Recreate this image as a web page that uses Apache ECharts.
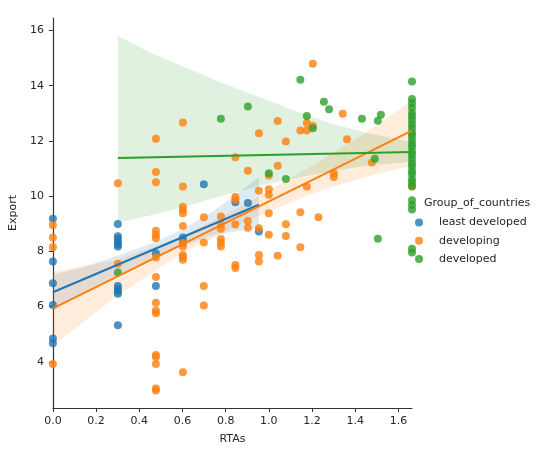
<!DOCTYPE html>
<html><head><meta charset="utf-8">
<script src="https://cdn.jsdelivr.net/npm/echarts@6/dist/echarts.min.js"></script>
<style>html,body{margin:0;padding:0;background:#fff}#c{width:550px;height:458px}</style>
</head><body><div id="c"></div><script>
const groupNames = ['least developed', 'developing', 'developed'];
const groupColors = ['#1f77b4', '#ff7f0e', '#2ca02c'];
const xTicks = [0, 0.2, 0.4, 0.6, 0.8, 1.0, 1.2, 1.4, 1.6];
const yTicks = [4, 6, 8, 10, 12, 14, 16];

const leastDeveloped = [
  [0,9.18],[0,7.63],[0,6.85],[0,6.06],[0,4.85],[0,4.67],
  [0.301,8.99],[0.301,8.55],[0.301,8.45],[0.301,8.35],[0.301,8.25],[0.301,8.18],
  [0.301,6.75],[0.301,6.65],[0.301,6.55],[0.301,6.47],[0.301,5.33],
  [0.477,7.93],[0.477,6.75],[0.602,8.5],[0.602,8.35],
  [0.699,10.43],[0.845,9.78],[0.903,9.75],[0.954,8.72]
];
const developing = [
  [0,8.95],[0,8.5],[0,8.15],[0,3.92],
  [0.301,10.47],[0.301,7.55],
  [0.477,12.08],[0.477,10.87],[0.477,10.5],[0.477,8.75],[0.477,8.6],[0.477,8.48],[0.477,7.78],
  [0.477,7.07],[0.477,6.14],[0.477,5.86],[0.477,5.76],[0.477,4.25],[0.477,4.18],[0.477,3.92],
  [0.477,3.04],[0.477,2.96],
  [0.602,12.67],[0.602,10.35],[0.602,9.62],[0.602,9.5],[0.602,9.38],[0.602,8.92],[0.602,8.3],
  [0.602,8.18],[0.602,7.87],[0.602,7.79],[0.602,7.7],[0.602,3.62],
  [0.699,9.24],[0.699,8.32],[0.699,6.75],[0.699,6.04],
  [0.778,9.26],[0.778,8.97],[0.778,8.82],[0.778,8.45],[0.778,8.3],[0.778,8.18],
  [0.845,11.41],[0.845,9.97],[0.845,9.88],[0.845,8.97],[0.845,7.51],[0.845,7.4],
  [0.903,10.92],[0.903,9.1],[0.903,8.86],
  [0.954,12.28],[0.954,10.2],[0.954,8.84],[0.954,7.87],[0.954,7.63],
  [1.0,10.75],[1.0,10.25],[1.0,10.05],[1.0,9.38],[1.0,8.6],
  [1.041,12.72],[1.041,11.1],[1.041,7.84],
  [1.079,11.98],[1.079,8.98],[1.079,8.56],
  [1.146,12.38],[1.146,9.42],[1.146,8.15],
  [1.176,12.65],[1.176,12.38],[1.176,10.35],
  [1.204,14.79],[1.204,12.55],[1.23,9.24],
  [1.301,10.83],[1.301,10.69],[1.342,12.98],[1.362,12.06],[1.477,11.22],[1.663,10.35]
];
const developed = [
  [0.301,7.24],[0.778,12.8],[0.903,13.25],[1.0,10.83],[1.079,10.62],[1.146,14.21],[1.176,12.9],
  [1.204,12.46],[1.255,13.42],[1.279,13.15],[1.431,12.8],[1.491,11.35],[1.505,12.73],[1.505,8.46],
  [1.519,12.95],
  [1.663,14.15],[1.663,13.52],[1.663,13.36],[1.663,13.2],[1.663,13.02],[1.663,12.9],[1.663,12.76],
  [1.663,12.6],[1.663,12.47],[1.663,12.3],[1.663,12.2],[1.663,12.04],[1.663,11.9],[1.663,11.78],
  [1.663,11.62],[1.663,11.5],[1.663,11.35],[1.663,11.2],[1.663,11.08],[1.663,10.92],[1.663,10.8],
  [1.663,10.62],[1.663,10.5],[1.663,10.36],[1.663,9.85],[1.663,9.68],[1.663,9.52],[1.663,8.1],[1.663,7.96]
];

// regression lines
const fitLeast = [[0, 6.52], [0.954, 9.69]];
const fitDeveloping = [[0, 5.94], [1.663, 12.37]];
const fitDeveloped = [[0.301, 11.38], [1.663, 11.6]];

// confidence bands
const bandLeastX = [0, 0.15, 0.301, 0.477, 0.602, 0.75, 0.954];
const bandLeastUp = [7.15, 7.45, 7.85, 8.35, 8.8, 9.5, 10.68];
const bandLeastLo = [5.85, 6.55, 7.15, 7.8, 8.2, 8.6, 8.85];
const bandDevX = [0, 0.3, 0.6, 0.9, 1.2, 1.45, 1.663];
const bandDevUp = [7.25, 7.7, 8.55, 9.75, 11.1, 12.3, 13.45];
const bandDevLo = [4.6, 6.4, 7.95, 9.1, 10.1, 10.7, 11.1];
const bandDvdX = [0.301, 0.45, 0.6, 0.8, 1.0, 1.15, 1.3, 1.45, 1.663];
const bandDvdUp = [15.8, 15.2, 14.7, 14.05, 13.45, 13.0, 12.6, 12.3, 11.95];
const bandDvdLo = [9.05, 9.3, 9.6, 10.05, 10.45, 10.7, 10.9, 11.1, 11.25];

const FONT = 'DejaVu Sans';
const TXT = '#262626';

function scatter(name, data, color) {
  return { type: 'scatter', name, data, symbolSize: 8,
    itemStyle: { color, opacity: 0.8 }, z: 2, emphasis: { disabled: true } };
}
function band(xs, up, lo, color) {
  return {
    type: 'custom', silent: true, data: [[xs[0], up[0]]], z: 2,
    renderItem(params, api) {
      const pts = [];
      for (let i = 0; i < xs.length; i++) pts.push(api.coord([xs[i], up[i]]));
      for (let i = xs.length - 1; i >= 0; i--) pts.push(api.coord([xs[i], lo[i]]));
      return { type: 'polygon', shape: { points: pts }, style: { fill: color, opacity: 0.15 } };
    }
  };
}
function fit(data, color) {
  return { type: 'line', data, symbol: 'none', silent: true, z: 4,
    lineStyle: { color, width: 2 } };
}

const chart = echarts.init(document.getElementById('c'), null, { renderer: 'canvas' });
chart.setOption({
  animation: false,
  backgroundColor: '#fff',
  textStyle: { fontFamily: FONT },
  grid: { left: 52, right: 138, top: 18, bottom: 50 },
  title: { text: 'Group_of_countries', left: 424, top: 198, padding: 0,
    textStyle: { fontFamily: FONT, fontSize: 11, fontWeight: 'normal', color: TXT } },
  legend: {
    data: groupNames, orient: 'vertical', left: 415, top: 213.5, padding: 0,
    itemWidth: 30, itemHeight: 8, itemGap: 0.3, icon: 'circle', selectedMode: false,
    textStyle: { fontFamily: FONT, fontSize: 11, color: TXT, lineHeight: 18 }
  },
  xAxis: {
    type: 'value', min: 0, max: 1.663,
    name: 'RTAs', nameLocation: 'middle', nameGap: 26,
    nameTextStyle: { fontFamily: FONT, fontSize: 11, color: TXT },
    axisLine: { show: true, lineStyle: { color: '#333', width: 1.2 } },
    axisTick: { show: true, length: 4, customValues: xTicks, lineStyle: { color: '#333' } },
    axisLabel: { customValues: xTicks, margin: 8, fontSize: 11, color: TXT, fontFamily: FONT,
      formatter: v => v.toFixed(1) },
    splitLine: { show: false }
  },
  yAxis: {
    type: 'value', min: 2.33, max: 16.45,
    name: 'Export', nameLocation: 'middle', nameGap: 28, nameRotate: 90,
    nameTextStyle: { fontFamily: FONT, fontSize: 11, color: TXT },
    axisLine: { show: true, lineStyle: { color: '#333', width: 1.2 } },
    axisTick: { show: true, length: 4, customValues: yTicks, lineStyle: { color: '#333' } },
    axisLabel: { customValues: yTicks, margin: 9, fontSize: 11, color: TXT, fontFamily: FONT,
      formatter: v => String(Math.round(v)) },
    splitLine: { show: false }
  },
  series: [
    scatter(groupNames[0], leastDeveloped, groupColors[0]),
    band(bandLeastX, bandLeastUp, bandLeastLo, groupColors[0]),
    fit(fitLeast, groupColors[0]),
    scatter(groupNames[1], developing, groupColors[1]),
    band(bandDevX, bandDevUp, bandDevLo, groupColors[1]),
    fit(fitDeveloping, groupColors[1]),
    scatter(groupNames[2], developed, groupColors[2]),
    band(bandDvdX, bandDvdUp, bandDvdLo, groupColors[2]),
    fit(fitDeveloped, groupColors[2])
  ]
});
</script></body></html>
